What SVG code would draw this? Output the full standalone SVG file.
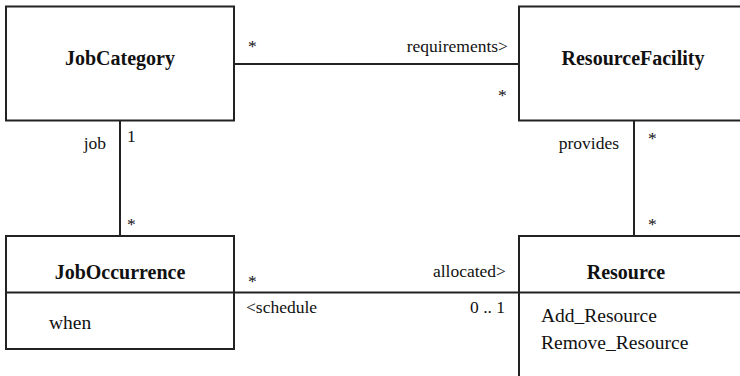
<svg xmlns="http://www.w3.org/2000/svg" width="740" height="376" viewBox="0 0 740 376">
<style>
.box{fill:#fff;stroke:#222;stroke-width:2}
.ln{stroke:#222;stroke-width:2;fill:none}
text{font-family:'Liberation Serif','Times New Roman','DejaVu Serif',serif;fill:#111}
.name{font-weight:bold;font-size:20px;text-anchor:middle}
.op{font-size:19.5px}
.lbl{font-size:17.5px}
.end{text-anchor:end}
</style>
<rect width="740" height="376" fill="#fff"/>
<g id="connectors" font-family="Liberation Serif, serif">
<line class="ln" x1="234" y1="64" x2="519" y2="64"/>
<line class="ln" x1="120" y1="120.5" x2="120" y2="236"/>
<line class="ln" x1="634" y1="120.5" x2="634" y2="236"/>
<line class="ln" x1="234" y1="292.5" x2="519" y2="292.5"/>
<text class="lbl" x="248" y="52">*</text>
<text class="lbl end" x="508" y="52">requirements&gt;</text>
<text class="lbl" x="498" y="101">*</text>
<text class="lbl end" x="106" y="149">job</text>
<text class="lbl" x="127" y="142">1</text>
<text class="lbl" x="127" y="230">*</text>
<text class="lbl end" x="619" y="149">provides</text>
<text class="lbl" x="648" y="144">*</text>
<text class="lbl" x="648" y="230">*</text>
<text class="lbl" x="248" y="287">*</text>
<text class="lbl end" x="506" y="277">allocated&gt;</text>
<text class="lbl" x="246" y="313">&lt;schedule</text>
<text class="lbl end" x="505" y="313">0 .. 1</text>
</g>
<g id="JobCategory">
<rect class="box" x="6" y="6.5" width="228" height="114"/>
<text class="name" x="120" y="65">JobCategory</text>
</g>
<g id="ResourceFacility">
<rect class="box" x="519" y="6.5" width="240" height="114"/>
<text class="name" x="633" y="65">ResourceFacility</text>
</g>
<g id="JobOccurrence">
<rect class="box" x="6" y="236" width="228" height="113"/>
<line class="ln" x1="6" y1="292.5" x2="234" y2="292.5"/>
<text class="name" x="120" y="279">JobOccurrence</text>
<text class="op" x="49" y="329">when</text>
</g>
<g id="Resource">
<rect class="box" x="519" y="236" width="240" height="160"/>
<line class="ln" x1="519" y1="292.5" x2="740" y2="292.5"/>
<text class="name" x="626" y="279">Resource</text>
<text class="op" x="541" y="321.5">Add_Resource</text>
<text class="op" x="541" y="349">Remove_Resource</text>
</g>
</svg>
